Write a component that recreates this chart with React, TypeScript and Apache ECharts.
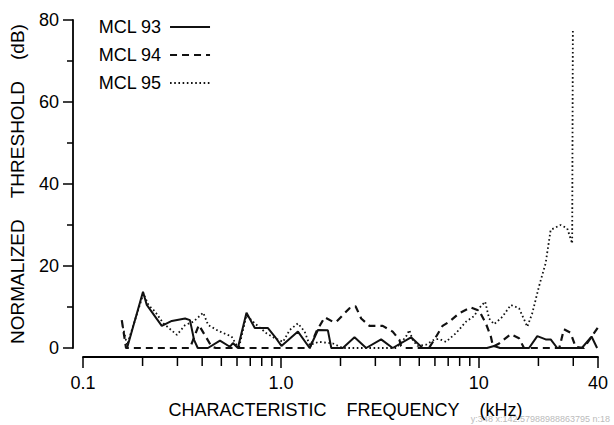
import React, { useEffect, useRef } from "react";
import * as echarts from "echarts";

const FONT = "'Liberation Sans', Arial, sans-serif";

const seriesNames = ["MCL 93", "MCL 94", "MCL 95"];

const xTickValues = [0.1, 1, 10, 40];
const xTickLabels = ["0.1", "1.0", "10", "40"];
const xMinorTicks = [0.2, 0.3, 0.4, 0.5, 0.6, 0.7, 0.8, 0.9, 2, 3, 4, 5, 6, 7, 8, 9, 20, 30];

const mcl93Freq = [0.167, 0.201, 0.21, 0.25, 0.281, 0.328, 0.347, 0.364, 0.38, 0.428, 0.492, 0.552, 0.572, 0.606, 0.67, 0.738, 0.858, 0.931, 1.006, 1.219, 1.397, 1.538, 1.727, 1.797, 2.055, 2.354, 2.696, 3.208, 3.67, 4.544, 5.198, 11.0, 11.94, 12.8, 17.93, 19.74, 21.76, 23.06, 24.89, 33.15, 37.1, 39.58];
const mcl93Db = [0, 13.7, 10.5, 5.4, 6.6, 7.2, 6.8, 2, 0, 0, 1.8, 0.3, 1.2, 0, 8.6, 4.9, 4.9, 2.8, 0.5, 4, 0, 4.4, 4.3, 0, 0, 2.6, 0, 2.1, 0, 2.6, 0, 0, 0.5, 0, 0, 2.9, 2.1, 2.1, 0, 0, 2.8, 0];

const mcl94Freq = [0.157, 0.165, 0.347, 0.385, 0.447, 0.47, 1.397, 1.51, 1.663, 1.831, 1.904, 2.222, 2.382, 2.544, 2.802, 3.269, 3.67, 3.967, 4.046, 4.2, 5.6, 5.968, 6.556, 7.087, 7.96, 9.116, 10.03, 10.85, 11.5, 11.8, 12.66, 14.5, 15.96, 16.91, 25.5, 26.9, 29.08, 30.81, 33.9, 40];
const mcl94Db = [6.8, 0, 0, 5.6, 0.3, 0, 0, 4, 7.5, 6.4, 6.4, 9.7, 10.2, 7.2, 5.4, 5.4, 4, 2, 0.5, 0, 0, 2.1, 5.4, 6.4, 8.5, 9.9, 9.1, 6, 2.8, 0.3, 1.1, 3.4, 2.4, 0, 0, 4.6, 3.7, 0.3, 0, 5];

const mcl95Freq = [0.159, 0.167, 0.202, 0.214, 0.231, 0.255, 0.298, 0.328, 0.361, 0.405, 0.429, 0.482, 0.563, 0.597, 0.615, 0.67, 0.738, 0.845, 0.931, 1.025, 1.108, 1.219, 1.318, 1.397, 1.55, 1.831, 2.055, 3.832, 4.288, 4.456, 4.629, 4.906, 5.408, 5.968, 6.31, 6.822, 7.659, 8.601, 9.47, 10.03, 10.76, 11.27, 11.94, 13.15, 14.5, 15.96, 17.58, 18.62, 20.13, 21.76, 23.06, 25.89, 27.95, 29.62, 29.86];
const mcl95Db = [5.2, 0.7, 13.3, 10.5, 8.9, 6, 3.2, 5.6, 6.4, 8.6, 5.6, 4.2, 2.8, 0.7, 0.3, 8, 6, 3.6, 2.4, 1.5, 4.4, 6, 4, 0.7, 1.5, 1.1, 0, 0, 2.8, 4.4, 2, 0.5, 0.8, 2.1, 2.2, 1.5, 3.6, 6.4, 7.8, 9.7, 11.3, 7.2, 5.8, 7.6, 10.5, 9.7, 5.2, 8.5, 15, 20.7, 28.8, 30, 29.2, 25.5, 78];

const zip = (xs: number[], ys: number[]) => xs.map((x, i) => [x, ys[i]]);

const X_OFFSET = 9;
const MINOR_TICK_LEN = 9;

export default function App() {
  const ref = useRef<HTMLDivElement>(null);
  useEffect(() => {
    if (!ref.current) return;
    const chart = echarts.init(ref.current, undefined, { renderer: "svg" });
    const black = "#000";
    const fmtX = (v: number) => {
      let best = 0;
      for (let i = 0; i < xTickValues.length; i++) {
        if (Math.abs(Math.log10(v) - Math.log10(xTickValues[i])) < Math.abs(Math.log10(v) - Math.log10(xTickValues[best]))) best = i;
      }
      return xTickLabels[best];
    };
    chart.setOption({
      animation: false,
      backgroundColor: "#fff",
      textStyle: { fontFamily: FONT, color: black },
      grid: { left: 83, right: 16, top: 20, bottom: 77 },
      legend: {
        data: seriesNames,
        orient: "vertical",
        left: 93,
        top: 13,
        align: "right",
        itemWidth: 40,
        itemHeight: 14,
        itemGap: 10,
        selectedMode: false,
        itemStyle: { opacity: 0 },
        textStyle: { fontSize: 18, color: black, fontFamily: FONT, padding: [0, 4, 0, 0] },
      },
      xAxis: {
        type: "log",
        logBase: 10,
        min: 0.1,
        max: 40,
        offset: X_OFFSET,
        axisLine: { onZero: false, lineStyle: { color: black, width: 1.8 } },
        axisTick: { show: true, length: 11, lineStyle: { color: black, width: 1.5 } },
        splitLine: { show: false },
        axisLabel: { formatter: fmtX, fontSize: 18, color: black, margin: 17, fontFamily: FONT },
        name: "CHARACTERISTIC\u00a0\u00a0\u00a0\u00a0FREQUENCY\u00a0\u00a0\u00a0\u00a0(kHz)",
        nameLocation: "middle",
        nameGap: 44,
        nameTextStyle: { fontSize: 18, color: black, fontFamily: FONT, padding: [0, 0, 0, 10] },
      },
      yAxis: {
        type: "value",
        min: 0,
        max: 80,
        interval: 20,
        offset: 10,
        axisLine: { show: true, onZero: false, lineStyle: { color: black, width: 1.8 } },
        axisTick: { show: true, length: 10, lineStyle: { color: black, width: 1.5 } },
        minorTick: { show: true, splitNumber: 2, length: 6, lineStyle: { color: black, width: 1.5 } },
        splitLine: { show: false },
        minorSplitLine: { show: false },
        axisLabel: { fontSize: 18, color: black, margin: 14, fontFamily: FONT },
        name: "NORMALIZED\u00a0\u00a0\u00a0\u00a0THRESHOLD\u00a0\u00a0\u00a0\u00a0(dB)",
        nameLocation: "middle",
        nameRotate: 90,
        nameGap: 46,
        nameTextStyle: { fontSize: 19, color: black, fontFamily: FONT },
      },
      series: [
        {
          name: seriesNames[0],
          type: "line",
          data: zip(mcl93Freq, mcl93Db),
          symbol: "none",
          lineStyle: { color: "#111", width: 2, type: "solid" },
          itemStyle: { color: "#111" },
          z: 3,
        },
        {
          name: seriesNames[1],
          type: "line",
          data: zip(mcl94Freq, mcl94Db),
          symbol: "none",
          lineStyle: { color: "#111", width: 2.2, type: [7, 5] },
          itemStyle: { color: "#111" },
          z: 2,
        },
        {
          name: seriesNames[2],
          type: "line",
          data: zip(mcl95Freq, mcl95Db),
          symbol: "none",
          lineStyle: { color: "#111", width: 1.8, type: [1.6, 2.6] },
          itemStyle: { color: "#111" },
          z: 2,
        },
      ],
    });

    // minor ticks of the log x-axis, positioned through the axis scale
    const info: string[] = [];
    const tickEls: any[] = [];
    let py = NaN;
    try {
      const ry = chart.convertToPixel({ yAxisIndex: 0 } as any, 0 as any) as any;
      info.push("y:" + JSON.stringify(ry));
      py = Array.isArray(ry) ? Number(ry[ry.length - 1]) : Number(ry);
    } catch (e: any) {
      info.push("yerr:" + String(e && e.message));
    }
    xMinorTicks.forEach((v, i) => {
      let px = NaN;
      try {
        const rx = chart.convertToPixel({ xAxisIndex: 0 } as any, v as any) as any;
        if (i === 0) info.push("x:" + JSON.stringify(rx));
        px = Array.isArray(rx) ? Number(rx[0]) : Number(rx);
      } catch (e: any) {
        if (i === 0) info.push("xerr:" + String(e && e.message));
      }
      if (!isFinite(px) || !isFinite(py)) return;
      tickEls.push({
        type: "rect",
        silent: true,
        z: 100,
        zlevel: 0,
        x: 0,
        y: 0,
        shape: { x: px - 0.75, y: py + X_OFFSET, width: 1.5, height: MINOR_TICK_LEN },
        style: { fill: black },
      });
    });
    info.push("n:" + tickEls.length);
    tickEls.push({
      type: "text",
      right: 4,
      bottom: 2,
      silent: true,
      style: { text: info.join(" "), fill: "#bbb", fontSize: 9, fontFamily: FONT },
    });
    chart.setOption({ graphic: { elements: tickEls } });
    return () => chart.dispose();
  }, []);
  return (
    <div
      ref={ref}
      style={{ position: "fixed", left: 0, top: 0, width: 614, height: 425, background: "#fff" }}
    />
  );
}
